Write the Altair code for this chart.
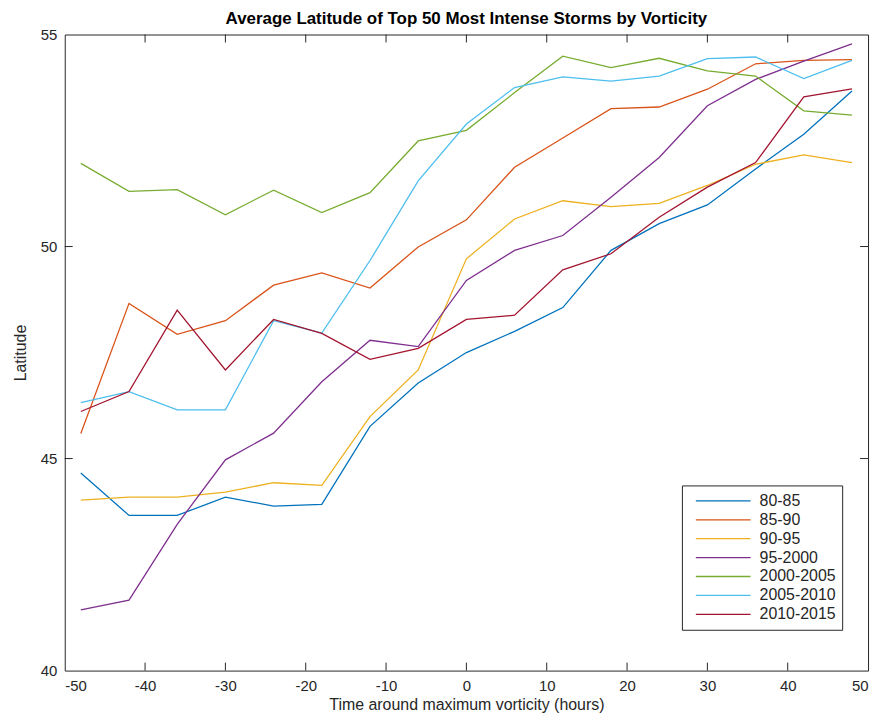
import altair as alt
import pandas as pd

# hours around the vorticity maximum
hours = [-48, -42, -36, -30, -24, -18, -12, -6, 0, 6, 12, 18, 24, 30, 36, 42, 48]

lat_80_85 = [44.66, 43.66, 43.66, 44.09, 43.88, 43.92, 45.76, 46.78, 47.50,
             48.00, 48.56, 49.91, 50.54, 50.98, 51.83, 52.65, 53.67]
lat_85_90 = [45.59, 48.66, 47.93, 48.25, 49.09, 49.38, 49.02, 49.99, 50.63,
             51.87, 52.56, 53.25, 53.29, 53.71, 54.31, 54.39, 54.41]
lat_90_95 = [44.02, 44.09, 44.09, 44.21, 44.43, 44.37, 45.99, 47.09, 49.71,
             50.65, 51.08, 50.94, 51.02, 51.44, 51.94, 52.16, 51.98]
lat_95_2000 = [41.43, 41.66, 43.45, 44.97, 45.60, 46.81, 47.79, 47.64, 49.20,
               49.91, 50.26, 51.16, 52.10, 53.32, 53.94, 54.37, 54.78]
lat_2000_2005 = [51.96, 51.30, 51.34, 50.75, 51.33, 50.80, 51.27, 52.49, 52.74,
                 53.63, 54.49, 54.22, 54.44, 54.14, 54.02, 53.20, 53.10]
lat_2005_2010 = [46.32, 46.58, 46.15, 46.15, 48.25, 47.96, 49.67, 51.55, 52.89,
                 53.75, 54.00, 53.90, 54.02, 54.43, 54.47, 53.96, 54.39]
lat_2010_2015 = [46.11, 46.58, 48.50, 47.09, 48.28, 47.95, 47.34, 47.60, 48.28,
                 48.38, 49.45, 49.83, 50.69, 51.40, 51.98, 53.53, 53.72]

periods = ["80-85", "85-90", "90-95", "95-2000", "2000-2005", "2005-2010", "2010-2015"]
series = [lat_80_85, lat_85_90, lat_90_95, lat_95_2000,
          lat_2000_2005, lat_2005_2010, lat_2010_2015]
colors = ["#0072BD", "#D95319", "#EDB120", "#7E2F8E", "#77AC30", "#4DBEEE", "#A2142F"]

x_ticks = [-50, -40, -30, -20, -10, 0, 10, 20, 30, 40, 50]
y_ticks = [40, 45, 50, 55]
x_inner = [-40, -30, -20, -10, 0, 10, 20, 30, 40]
y_inner = [45, 50]

W, H = 807, 639
TICK = 8
FONT = "Liberation Sans"
TEXT = "#262626"

rows = []
for name, vals in zip(periods, series):
    for h, v in zip(hours, vals):
        rows.append({"hours": h, "lat": v, "period": name})
df = pd.DataFrame(rows)

xscale = alt.Scale(domain=[-50, 50], nice=False, zero=False)
yscale = alt.Scale(domain=[40, 55], nice=False, zero=False)
# plain hyphen for negatives, as in the original figure
xaxis = alt.Axis(title="Time around maximum vorticity (hours)",
                 values=x_ticks, grid=False, ticks=False,
                 labelExpr="'' + datum.value",
                 labelPadding=8, titlePadding=3)
yaxis = alt.Axis(title="Latitude", values=y_ticks, grid=False,
                 ticks=False, labelPadding=8, titlePadding=12)

lines = alt.Chart(df).mark_line(strokeWidth=1.3, clip=True).encode(
    x=alt.X("hours:Q", scale=xscale, axis=xaxis),
    y=alt.Y("lat:Q", scale=yscale, axis=yaxis),
    color=alt.Color("period:N", sort=periods,
                    scale=alt.Scale(domain=periods, range=colors),
                    legend=alt.Legend(title=None, orient="none",
                                      legendX=620, legendY=453,
                                      symbolType="stroke", symbolSize=3025,
                                      symbolStrokeWidth=1.3,
                                      symbolOffset=7, labelOffset=8,
                                      clipHeight=19, rowPadding=0,
                                      padding=6, strokeColor="#262626",
                                      fillColor="white", labelFontSize=16,
                                      labelFont=FONT, labelColor=TEXT)),
)

xt = pd.DataFrame({"hours": x_inner})
yt = pd.DataFrame({"lat": y_inner})

tick_bottom = alt.Chart(xt).mark_rule(color=TEXT).encode(
    x=alt.X("hours:Q", scale=xscale, axis=xaxis),
    y=alt.value(H), y2=alt.value(H - TICK))
tick_top = alt.Chart(xt).mark_rule(color=TEXT).encode(
    x=alt.X("hours:Q", scale=xscale, axis=xaxis),
    y=alt.value(0), y2=alt.value(TICK))
tick_left = alt.Chart(yt).mark_rule(color=TEXT).encode(
    y=alt.Y("lat:Q", scale=yscale, axis=yaxis),
    x=alt.value(0), x2=alt.value(TICK))
tick_right = alt.Chart(yt).mark_rule(color=TEXT).encode(
    y=alt.Y("lat:Q", scale=yscale, axis=yaxis),
    x=alt.value(W), x2=alt.value(W - TICK))

chart = alt.layer(lines, tick_bottom, tick_top, tick_left, tick_right).properties(
    width=W, height=H,
    title=alt.TitleParams("Average Latitude of Top 50 Most Intense Storms by Vorticity",
                          fontSize=17, font=FONT, fontWeight="bold",
                          color="black", offset=0, anchor="middle"),
    autosize=alt.AutoSizeParams(type="none"),
    padding={"left": 57, "top": 25, "right": 10, "bottom": 45},
).configure_view(
    stroke=TEXT, strokeWidth=1
).configure_axis(
    domain=False, labelFont=FONT, titleFont=FONT, labelFontSize=15,
    titleFontSize=16, labelColor=TEXT, titleColor=TEXT, titleFontWeight="normal"
)

chart.save("out.html", embed_options={"renderer": "svg", "actions": False})
